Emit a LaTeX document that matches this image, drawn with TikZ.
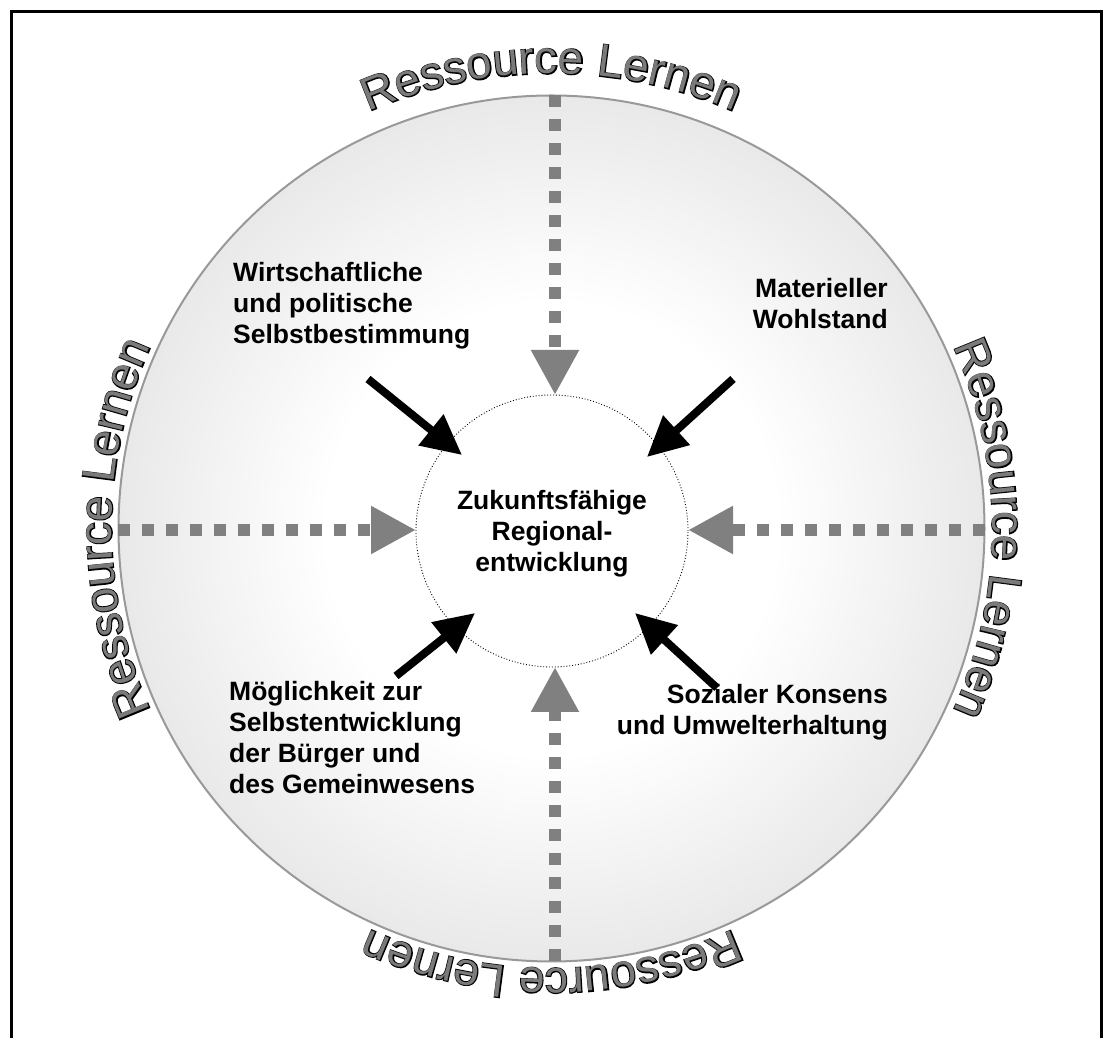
\documentclass[tikz,border=0pt]{standalone}
\usepackage{fontspec}
\setmainfont{Liberation Sans}
\newfontfamily\wordartfont{Liberation Sans}
\newfontfamily\wordartedge[FakeBold=4]{Liberation Sans}
\usetikzlibrary{arrows.meta,decorations.text}
\definecolor{rimgray}{HTML}{999999}
\definecolor{dashgray}{HTML}{808080}
\definecolor{artgray}{HTML}{7A7A7A}
\definecolor{discgray}{HTML}{DADADA}
\pgfdeclareradialshading{disc}{\pgfpointorigin}{color(0bp)=(white); color(13bp)=(white); color(33bp)=(discgray); color(50bp)=(discgray)}

% curved outlined caption: #1 start angle, #2 end angle, #3 radius
\newcommand\ringcaption[3]{%
  \path[decorate, decoration={text along path, text align=center,
    text={|\fontsize{46}{46}\wordartedge\color{black}|Ressource Lernen}}]
    ([shift={(#1:#3)}]C) arc[start angle=#1, end angle=#2, radius=#3];
  \path[decorate, decoration={text along path, text align=center,
    text={|\fontsize{46}{46}\wordartfont\color{artgray}|Ressource Lernen}}]
    ([shift={(#1:#3)}]C) arc[start angle=#1, end angle=#2, radius=#3];
}

\begin{document}
\begin{tikzpicture}[x=1pt, y=1pt,
  caption/.style={font=\fontsize{26.5}{31}\selectfont\bfseries, inner sep=0pt},
  feed/.style={line width=8pt, -{Triangle[length=40pt,width=38pt]}},
  resource/.style={draw=dashgray, line width=12pt, dash pattern=on 12pt off 12pt,
    -{Triangle[length=45pt,width=45pt,fill=dashgray]}}]
\useasboundingbox (0,0) rectangle (1106,1038);

% frame, open at the lower edge
\draw[line width=3pt] (11.5,0) -- (11.5,1026.5) -- (1101.5,1026.5) -- (1101.5,0);

% shaded disc
\coordinate (C) at (551.5,509.5);
\shadedraw[shading=disc, draw=rimgray, line width=2pt] (C) circle[radius=433];

% inner goal circle
\node[circle, draw, dotted, line width=0.9pt, fill=white, minimum size=272pt, inner sep=0pt] (core) at (552,507) {};
\node[caption, align=center] (goal) at (552,504.5) {Zukunftsfähige\\Regional-\\entwicklung};

% resource lines
\coordinate (rtop) at (555,942.5);
\coordinate (ttop) at (555,643);
\coordinate (rbot) at (555,77);
\coordinate (tbot) at (555,371);
\coordinate (rleft) at (118,508);
\coordinate (tleft) at (416,508);
\coordinate (rright) at (985,508);
\coordinate (tright) at (688,508);
\draw[resource] (rtop) -- (ttop);
\draw[resource] (rbot) -- (tbot);
\draw[resource] (rleft) -- (tleft);
\draw[resource] (rright) -- (tright);

% captions of the four aims
\node[caption, align=left, anchor=north west] (selfdet) at (233,776)
  {Wirtschaftliche\\und politische\\Selbstbestimmung};
\node[caption, align=right, anchor=north east] (wealth) at (888,760)
  {Materieller\\Wohlstand};
\node[caption, align=left, anchor=north west] (growth) at (229,357)
  {Möglichkeit zur\\Selbstentwicklung\\der Bürger und\\des Gemeinwesens};
\node[caption, align=right, anchor=north east] (consens) at (888,354)
  {Sozialer Konsens\\und Umwelterhaltung};

% black arrows towards the goal
\coordinate (ul0) at (368,659);  \coordinate (ul1) at (462,583);
\coordinate (ur0) at (733,659);  \coordinate (ur1) at (647,581);
\coordinate (ll0) at (396,362);  \coordinate (ll1) at (475,425);
\coordinate (lr0) at (717,350);  \coordinate (lr1) at (635,425);
\draw[feed] (ul0) -- (ul1);
\draw[feed] (ur0) -- (ur1);
\draw[feed] (ll0) -- (ll1);
\draw[feed] (lr0) -- (lr1);

% curved captions around the disc
\ringcaption{130}{50}{455}
\ringcaption{40}{-40}{441}
\ringcaption{-50}{-130}{440}
\ringcaption{220}{140}{440}
\end{tikzpicture}
\end{document}
